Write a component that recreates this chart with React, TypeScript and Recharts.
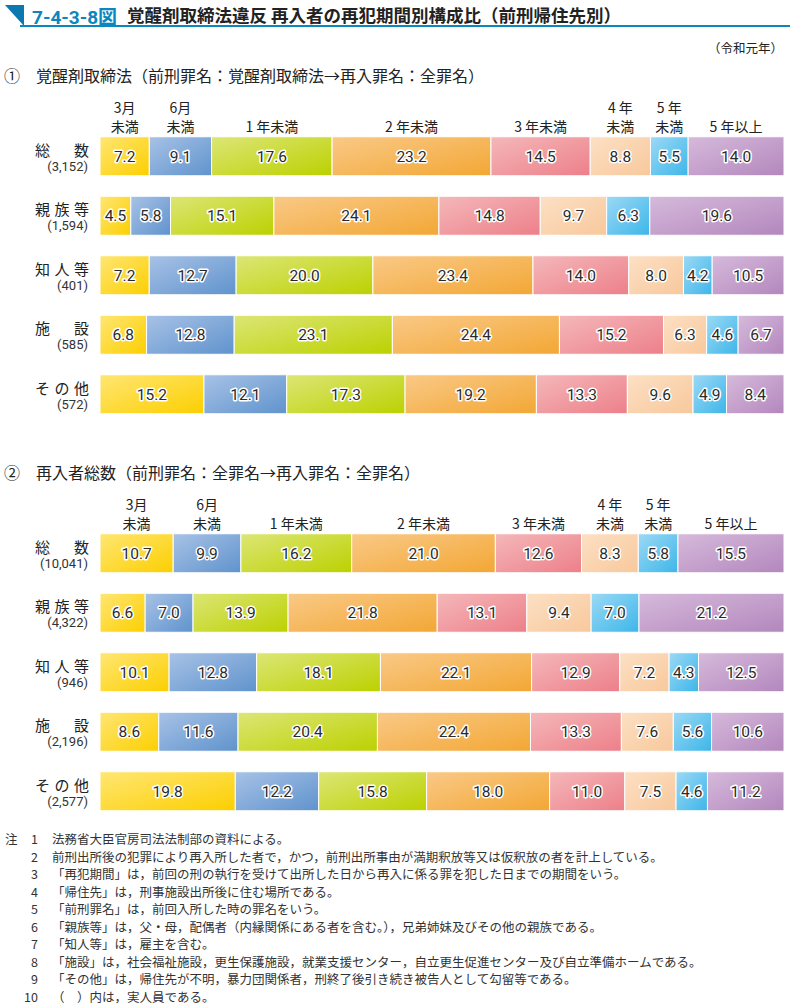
import React from "react";
import { BarChart, Bar, XAxis, YAxis, LabelList } from "recharts";

const periodKeys = ["p0", "p1", "p2", "p3", "p4", "p5", "p6", "p7"];
const periodHeads = [
  ["3月", "未満"],
  ["6月", "未満"],
  ["1 年未満"],
  ["2 年未満"],
  ["3 年未満"],
  ["4 年", "未満"],
  ["5 年", "未満"],
  ["5 年以上"],
];
const places = ["総数", "親族等", "知人等", "施設", "その他"];

// ① 覚醒剤取締法
const drugCounts = ["3,152", "1,594", "401", "585", "572"];
const drugTotal = [7.2, 9.1, 17.6, 23.2, 14.5, 8.8, 5.5, 14.0];
const drugFamily = [4.5, 5.8, 15.1, 24.1, 14.8, 9.7, 6.3, 19.6];
const drugAcq = [7.2, 12.7, 20.0, 23.4, 14.0, 8.0, 4.2, 10.5];
const drugFacility = [6.8, 12.8, 23.1, 24.4, 15.2, 6.3, 4.6, 6.7];
const drugOther = [15.2, 12.1, 17.3, 19.2, 13.3, 9.6, 4.9, 8.4];

// ② 再入者総数
const allCounts = ["10,041", "4,322", "946", "2,196", "2,577"];
const allTotal = [10.7, 9.9, 16.2, 21.0, 12.6, 8.3, 5.8, 15.5];
const allFamily = [6.6, 7.0, 13.9, 21.8, 13.1, 9.4, 7.0, 21.2];
const allAcq = [10.1, 12.8, 18.1, 22.1, 12.9, 7.2, 4.3, 12.5];
const allFacility = [8.6, 11.6, 20.4, 22.4, 13.3, 7.6, 5.6, 10.6];
const allOther = [19.8, 12.2, 15.8, 18.0, 11.0, 7.5, 4.6, 11.2];

const notes = [
  "法務省大臣官房司法法制部の資料による。",
  "前刑出所後の犯罪により再入所した者で，かつ，前刑出所事由が満期釈放等又は仮釈放の者を計上している。",
  "「再犯期間」は，前回の刑の執行を受けて出所した日から再入に係る罪を犯した日までの期間をいう。",
  "「帰住先」は，刑事施設出所後に住む場所である。",
  "「前刑罪名」は，前回入所した時の罪名をいう。",
  "「親族等」は，父・母，配偶者（内縁関係にある者を含む。），兄弟姉妹及びその他の親族である。",
  "「知人等」は，雇主を含む。",
  "「施設」は，社会福祉施設，更生保護施設，就業支援センター，自立更生促進センター及び自立準備ホームである。",
  "「その他」は，帰住先が不明，暴力団関係者，刑終了後引き続き被告人として勾留等である。",
  "（　）内は，実人員である。",
];

const gradients = [
  ["#FFE673", "#FCCF00"],
  ["#A8C2E6", "#5F93CD"],
  ["#DCE676", "#BCD100"],
  ["#F9C987", "#F3A734"],
  ["#F4B8BA", "#ED7F89"],
  ["#FCE0C4", "#F8C89C"],
  ["#9CD9F5", "#3DB6E9"],
  ["#D6BADB", "#B387BD"],
];

const JP = "'Noto Sans CJK JP', 'Noto Sans', sans-serif";
const NUM = "Roboto, 'Noto Sans', sans-serif";

const toRows = (series: number[][]) =>
  places.map((name, i) => {
    const row: Record<string, any> = { name };
    periodKeys.forEach((k, j) => (row[k] = series[i][j]));
    return row;
  });

const ValueLabel = (props: any) => {
  const { x, y, width, height, value } = props;
  return (
    <text
      x={x + width / 2}
      y={y + height / 2 + 5.5}
      textAnchor="middle"
      fontSize={15.5}
      fontFamily={NUM}
      fill="#2a2a2a"
      stroke="#fff"
      strokeWidth={3}
      strokeLinejoin="round"
      paintOrder="stroke"
    >
      {Number(value).toFixed(1)}
    </text>
  );
};

const makeHead = (lines: string[]) => (props: any) => {
  const { x, y, width, index } = props;
  if (index !== 0) return null;
  const cx = x + width / 2;
  return (
    <g>
      {lines.map((t, i) => (
        <text
          key={i}
          x={cx}
          y={y - 5 - (lines.length - 1 - i) * 19}
          textAnchor="middle"
          fontSize={14}
          fontFamily={JP}
          fill="#222"
        >
          {t}
        </text>
      ))}
    </g>
  );
};

const makeTick = (counts: string[]) => (props: any) => {
  const { y, payload, index } = props;
  const chars = String(payload.value).split("");
  const left = 35;
  const span = 89 - left - 15;
  return (
    <g>
      {chars.map((c, i) => (
        <text
          key={i}
          x={left + (chars.length > 1 ? (i * span) / (chars.length - 1) : 0)}
          y={y - 1}
          fontSize={15}
          fontFamily={JP}
          fill="#222"
        >
          {c}
        </text>
      ))}
      <text x={88} y={y + 14} textAnchor="end" fontSize={13} fontFamily={NUM} fill="#333">
        ({counts[index]})
      </text>
    </g>
  );
};

const Panel = ({
  series,
  counts,
  top,
  marginTop,
  idp,
}: {
  series: number[][];
  counts: string[];
  top: number;
  marginTop: number;
  idp: string;
}) => (
  <div style={{ position: "absolute", left: 0, top }}>
    <BarChart
      width={790}
      height={340}
      layout="vertical"
      data={toRows(series)}
      stackOffset="expand"
      barSize={39}
      margin={{ top: marginTop, right: 6, bottom: 340 - marginTop - 297.5, left: 0 }}
    >
      <defs>
        {gradients.map(([a, b], i) => (
          <linearGradient key={i} id={`${idp}g${i}`} x1="0" y1="0" x2="1" y2="1">
            <stop offset="0%" stopColor={a} />
            <stop offset="100%" stopColor={b} />
          </linearGradient>
        ))}
      </defs>
      <XAxis type="number" hide domain={[0, 1]} />
      <YAxis
        type="category"
        dataKey="name"
        width={100}
        axisLine={false}
        tickLine={false}
        tick={makeTick(counts)}
        interval={0}
      />
      {periodKeys.map((k, i) => (
        <Bar
          key={k}
          dataKey={k}
          stackId="s"
          fill={`url(#${idp}g${i})`}
          stroke="#fff"
          strokeWidth={1}
          isAnimationActive={false}
        >
          <LabelList dataKey={k} content={ValueLabel} />
          <LabelList dataKey={k} content={makeHead(periodHeads[i])} />
        </Bar>
      ))}
    </BarChart>
  </div>
);

export default function App() {
  return (
    <div
      style={{
        position: "absolute",
        left: 0,
        top: 0,
        width: 790,
        height: 1005,
        background: "#fff",
        fontFamily: JP,
        color: "#222",
        overflow: "hidden",
      }}
    >
      <svg width={790} height={30} style={{ position: "absolute", left: 0, top: 0 }}>
        <polygon points="5,5 24,5 24,26" fill="#0B78B0" />
        <rect x={20} y={25} width={770} height={2} fill="#0B86BE" />
      </svg>
      <div
        style={{
          position: "absolute",
          left: 32,
          top: 2,
          fontSize: 19,
          fontWeight: 700,
          color: "#0B86BE",
          fontFamily: "Roboto, sans-serif",
          whiteSpace: "nowrap",
        }}
      >
        7-4-3-8<span style={{ fontFamily: JP }}>図</span>
      </div>
      <div
        style={{
          position: "absolute",
          left: 127,
          top: 2,
          fontSize: 17.5,
          fontWeight: 700,
          whiteSpace: "nowrap",
        }}
      >
        覚醒剤取締法違反 再入者の再犯期間別構成比（前刑帰住先別）
      </div>
      <div style={{ position: "absolute", right: 7, top: 38, fontSize: 12.5, whiteSpace: "nowrap" }}>
        （令和元年）
      </div>
      <div style={{ position: "absolute", left: 4, top: 63, fontSize: 16, whiteSpace: "nowrap" }}>
        ①　覚醒剤取締法（前刑罪名：覚醒剤取締法→再入罪名：全罪名）
      </div>
      <div style={{ position: "absolute", left: 4, top: 460, fontSize: 16, whiteSpace: "nowrap" }}>
        ②　再入者総数（前刑罪名：全罪名→再入罪名：全罪名）
      </div>

      <Panel
        series={[drugTotal, drugFamily, drugAcq, drugFacility, drugOther]}
        counts={drugCounts}
        top={90}
        marginTop={36.75}
        idp="a"
      />
      <Panel
        series={[allTotal, allFamily, allAcq, allFacility, allOther]}
        counts={allCounts}
        top={490}
        marginTop={33.75}
        idp="b"
      />

      <div style={{ position: "absolute", left: 0, top: 829, fontSize: 12.5, color: "#333" }}>
        {notes.map((n, i) => (
          <div key={i} style={{ position: "absolute", top: i * 17.5, left: 0, whiteSpace: "nowrap", height: 17.5 }}>
            {i === 0 && <span style={{ position: "absolute", left: 5 }}>注</span>}
            <span style={{ position: "absolute", left: 20, width: 18, textAlign: "right" }}>{i + 1}</span>
            <span style={{ position: "absolute", left: 52 }}>{n}</span>
          </div>
        ))}
      </div>
    </div>
  );
}
